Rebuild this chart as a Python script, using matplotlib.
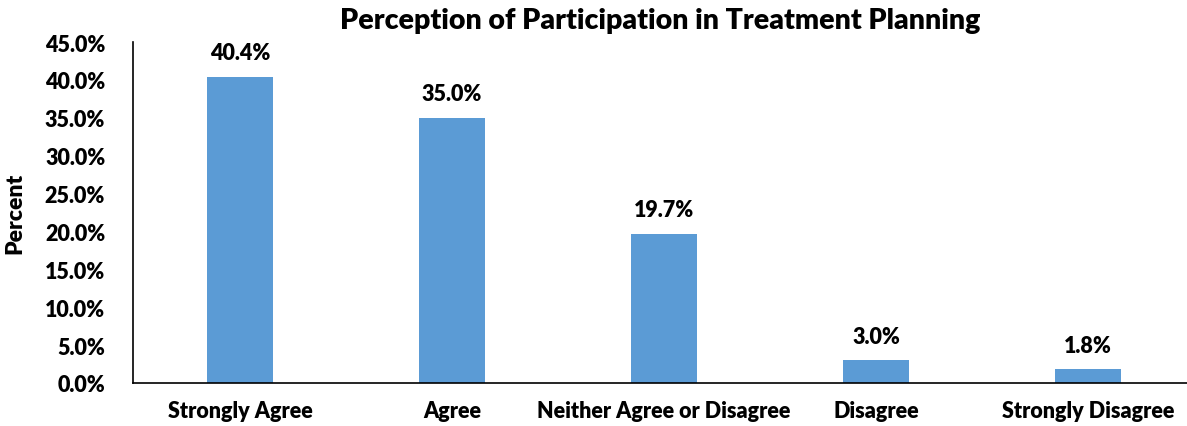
import numpy as np
import matplotlib.pyplot as plt
from matplotlib.ticker import FuncFormatter

categories = ['Strongly Agree', 'Agree', 'Neither Agree or Disagree', 'Disagree', 'Strongly Disagree']
percent = [40.4, 35.0, 19.7, 3.0, 1.8]

plt.rcParams['font.family'] = ['Lato', 'DejaVu Sans']
plt.rcParams['font.weight'] = 'heavy'

fig = plt.figure(figsize=(11.87, 4.27), dpi=100)
ax = fig.add_axes([133 / 1187, 43 / 427, (1187 - 133) / 1187, 341 / 427])

ind = np.arange(len(categories))
bars = ax.bar(ind, percent, 0.31, color='#5B9BD5')

ax.set_xlim(-0.505, 4.467)
ax.set_ylim(0, 45)
ax.set_yticks(np.arange(0, 46, 5))
ax.yaxis.set_major_formatter(FuncFormatter(lambda v, p: '%.1f%%' % v))
ax.set_xticks(ind)
ax.set_xticklabels(categories)

for s in ['top', 'right']:
    ax.spines[s].set_visible(False)
for s in ['left', 'bottom']:
    ax.spines[s].set_linewidth(1.2)
ax.tick_params(length=0, labelsize=15.5, pad=12)
ax.tick_params(axis='y', pad=20)

ax.set_ylabel('Percent', fontsize=16.5, fontweight='heavy', labelpad=14)
ax.set_title('Perception of Participation in Treatment Planning', fontsize=20.5, fontweight='heavy', pad=10)

# value labels above the bars
for rect, v in zip(bars, percent):
    ax.text(rect.get_x() + rect.get_width() / 2, v + 1.8, '%.1f%%' % v,
            ha='center', va='bottom', fontsize=15.5, fontweight='heavy')

fig.savefig('out.png', dpi=100)
